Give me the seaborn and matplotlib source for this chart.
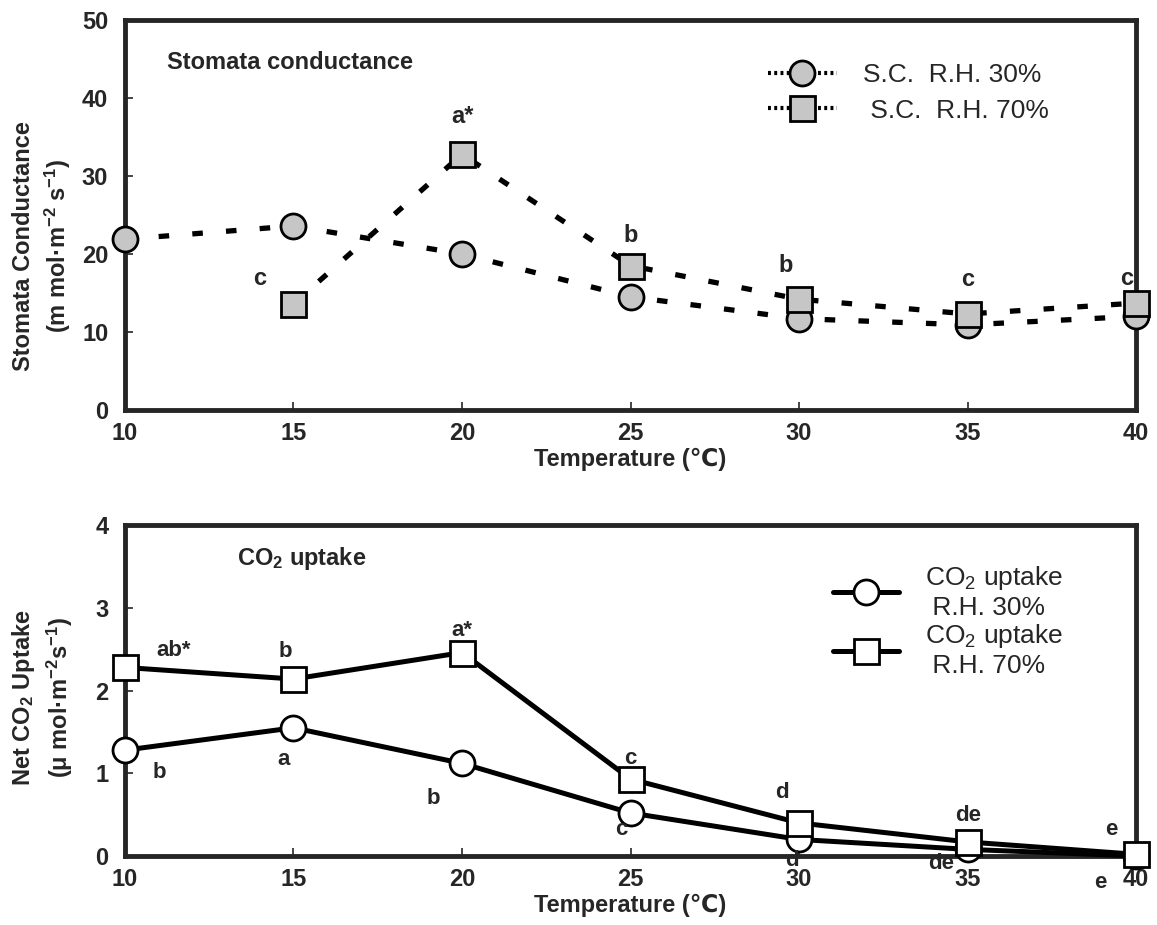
"""
Stomata conductance and net CO2 uptake vs temperature at two R.H. levels
"""
import numpy as np
import pandas as pd
import matplotlib
matplotlib.use("Agg")
import matplotlib.pyplot as plt
import seaborn as sns

# ---- data ----
temps = [10, 15, 20, 25, 30, 35, 40]

sc_rh30 = [21.9, 23.6, 20.0, 14.5, 11.7, 10.9, 12.0]
sc_rh70 = [np.nan, 13.6, 32.8, 18.5, 14.2, 12.3, 13.7]

co2_rh30 = [1.28, 1.55, 1.12, 0.52, 0.20, 0.08, 0.0]
co2_rh70 = [2.28, 2.14, 2.46, 0.93, 0.40, 0.17, 0.02]

sc_rh70_letters = [None, "c", "a*", "b", "b", "c", "c"]
co2_rh30_letters = ["b", "a", "b", "c", "d", "de", "e"]
co2_rh70_letters = ["ab*", "b", "a*", "c", "d", "de", "e"]

sns.set_style("ticks")
plt.rcParams["font.family"] = ["Liberation Sans", "DejaVu Sans"]
plt.rcParams["mathtext.default"] = "regular"
plt.rcParams["axes.linewidth"] = 3.5

FS = 17
LEG_FS = 19
fig = plt.figure(figsize=(11.57, 9.25), dpi=100)
ax1 = fig.add_axes([0.108, 0.557, 0.874, 0.421])
ax2 = fig.add_axes([0.108, 0.0746, 0.874, 0.3576])

gray = "#c6c6c6"
dash = (0, (2.0, 4.4))

# ---- top: stomata conductance ----
sns.lineplot(x=temps, y=sc_rh30, ax=ax1, color="black", lw=3.8, linestyle=dash,
             marker="o", markersize=18, markerfacecolor=gray, markeredgecolor="black",
             markeredgewidth=2, clip_on=False, zorder=5, label="S.C.  R.H. 30%")
sns.lineplot(x=temps, y=sc_rh70, ax=ax1, color="black", lw=3.8, linestyle=dash,
             marker="s", markersize=18, markerfacecolor=gray, markeredgecolor="black",
             markeredgewidth=2, clip_on=False, zorder=6, label=" S.C.  R.H. 70%")

# offsets in points for the significance letters
sc_off = [None, (-24, 18), (0, 27), (0, 22), (-10, 24), (0, 25), (-7, 18)]
for t, v, s, o in zip(temps, sc_rh70, sc_rh70_letters, sc_off):
    if s:
        ax1.annotate(s, (t, v), xytext=o, textcoords="offset points",
                     ha="center", va="center", fontsize=FS, fontweight="bold")

ax1.text(0.042, 0.892, "Stomata conductance", transform=ax1.transAxes,
         fontsize=FS, fontweight="bold", va="center")

ax1.set_ylim(0, 50)
ax1.set_yticks([0, 10, 20, 30, 40, 50])
ax1.set_ylabel("Stomata Conductance\n(m mol·m$^{-2}$ s$^{-1}$)", fontsize=FS,
               fontweight="bold", linespacing=1.35)
ax1.yaxis.set_label_coords(-0.051, 0.42)

leg1 = ax1.legend(loc="center left", bbox_to_anchor=(0.636, 0.814), frameon=False,
                  fontsize=LEG_FS, handlelength=2.6, handletextpad=1.0,
                  labelspacing=0.45, borderpad=0, borderaxespad=0)
for ln in leg1.get_lines():
    ln.set_linestyle((0, (0.7, 0.8)))
    ln.set_linewidth(3)

# ---- bottom: CO2 uptake ----
sns.lineplot(x=temps, y=co2_rh30, ax=ax2, color="black", lw=3.6,
             marker="o", markersize=18, markerfacecolor="white", markeredgecolor="black",
             markeredgewidth=2, clip_on=False, zorder=5, label="CO$_2$ uptake\n R.H. 30%")
sns.lineplot(x=temps, y=co2_rh70, ax=ax2, color="black", lw=3.6,
             marker="s", markersize=18, markerfacecolor="white", markeredgecolor="black",
             markeredgewidth=2, clip_on=False, zorder=6, label="CO$_2$ uptake\n R.H. 70%")

off70 = [(35, 12), (-6, 20), (0, 16), (0, 15), (-12, 22), (0, 19), (-18, 18)]
off30 = [(25, -16), (-7, -23), (-21, -25), (-7, -12), (-5, -15), (-19, -10), (-26, -19)]
for t, v, s, o in zip(temps, co2_rh70, co2_rh70_letters, off70):
    ax2.annotate(s, (t, v), xytext=o, textcoords="offset points", ha="center",
                 va="center", fontsize=FS - 1, fontweight="bold", zorder=10)
for t, v, s, o in zip(temps, co2_rh30, co2_rh30_letters, off30):
    ax2.annotate(s, (t, v), xytext=o, textcoords="offset points", ha="center",
                 va="center", fontsize=FS - 1, fontweight="bold", zorder=10)

ax2.text(0.111, 0.90, "CO$_2$ uptake", transform=ax2.transAxes,
         fontsize=FS, fontweight="bold", va="center")

ax2.set_ylim(0, 4)
ax2.set_yticks([0, 1, 2, 3, 4])
ax2.set_ylabel("Net CO$_2$ Uptake\n(μ mol·m$^{-2}$s$^{-1}$)", fontsize=FS,
               fontweight="bold", linespacing=1.35)
ax2.yaxis.set_label_coords(-0.049, 0.48)

leg2 = ax2.legend(loc="center left", bbox_to_anchor=(0.70, 0.71), frameon=False,
                  fontsize=LEG_FS, handlelength=2.5, handletextpad=1.0,
                  labelspacing=0.1, borderpad=0, borderaxespad=0)
for txt in leg2.get_texts():
    txt.set_linespacing(1.2)

for ax in (ax1, ax2):
    ax.set_xlim(10, 40)
    ax.set_xticks(temps)
    ax.set_xlabel("Temperature (℃)", fontsize=FS, fontweight="bold", labelpad=2)
    ax.tick_params(direction="in", length=6, width=1.2, pad=9, labelsize=FS)
    for lab in ax.get_xticklabels() + ax.get_yticklabels():
        lab.set_fontweight("bold")
    for sp in ax.spines.values():
        sp.set_visible(True)
        sp.set_linewidth(3.5)
        sp.set_zorder(4)
    ax.tick_params(axis="y", pad=12)

fig.savefig("out.png", dpi=100)
